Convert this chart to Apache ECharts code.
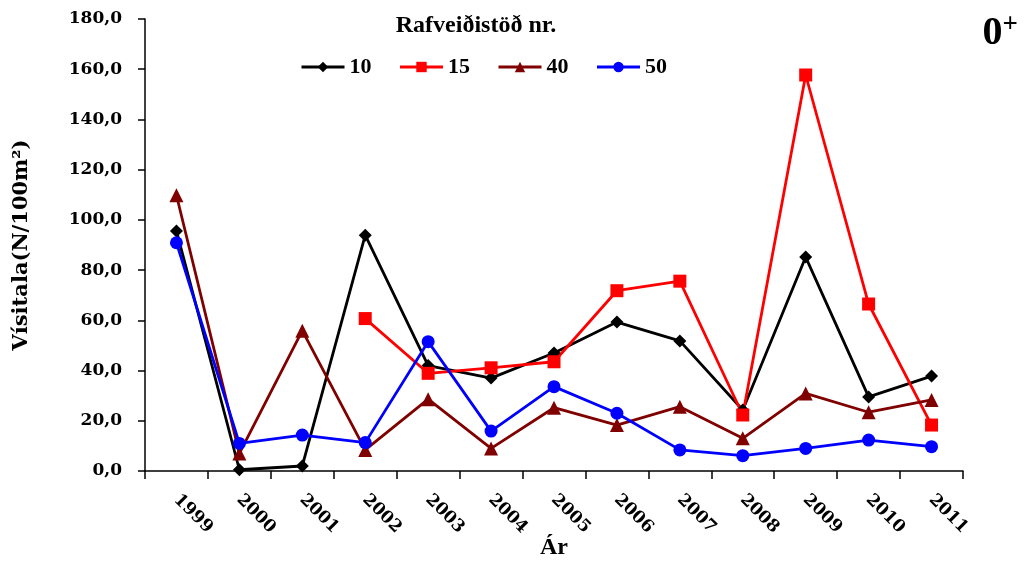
<!DOCTYPE html>
<html>
<head>
<meta charset="utf-8">
<script src="https://cdn.jsdelivr.net/npm/echarts@6/dist/echarts.min.js"></script>
<style>
html,body{margin:0;padding:0;background:#fff;}
#chart{width:1024px;height:561px;}
</style>
</head>
<body>
<div id="chart"></div>
<script>
const years = ['1999','2000','2001','2002','2003','2004','2005','2006','2007','2008','2009','2010','2011'];
const s10 = [95.6, 0.5, 2.0, 93.9, 42.0, 37.0, 47.0, 59.3, 51.8, 24.3, 85.2, 29.5, 37.8];
const s15 = [null, null, null, 60.7, 38.9, 41.1, 43.5, 71.8, 75.6, 22.3, 157.7, 66.5, 18.3];
const s40 = [109.8, 7.0, 55.9, 8.4, 28.6, 9.0, 25.2, 18.3, 25.6, 13.0, 30.9, 23.4, 28.3];
const s50 = [90.9, 11.0, 14.3, 11.3, 51.5, 15.9, 33.6, 23.0, 8.4, 6.1, 9.0, 12.3, 9.7];
const seriesNames = ['10', '15', '40', '50'];

const FONT = '"Liberation Serif", "Times New Roman", serif';
const WIDE = '"DejaVu Serif", serif';
const chart = echarts.init(document.getElementById('chart'));

function mk(name, data, color, symbol, size) {
  return {
    name: name, type: 'line', data: data, symbol: symbol, symbolSize: size,
    showAllSymbol: true, connectNulls: false,
    lineStyle: {color: color, width: 2.8},
    itemStyle: {color: color},
    emphasis: {disabled: true}, animation: false
  };
}

chart.setOption({
  animation: false,
  backgroundColor: '#fff',
  title: [
    {text: 'Rafveiðistöð nr.', left: 471, top: 9, textAlign: 'center',
     textStyle: {fontFamily: FONT, fontWeight: 'bold', fontSize: 24, color: '#000'}},
    {text: '{a|0}{b|+}', right: 1, top: 7,
     textStyle: {rich: {
       a: {fontFamily: FONT, fontWeight: 'bold', fontSize: 40, color: '#000'},
       b: {fontFamily: FONT, fontWeight: 'bold', fontSize: 27, color: '#000', verticalAlign: 'top', padding: [0,0,17,0]}
     }}}
  ],
  legend: {
    data: seriesNames, left: 295, top: 51, itemWidth: 43, itemHeight: 13, itemGap: 27,
    lineStyle: {width: 3},
    textStyle: {fontFamily: FONT, fontWeight: 'bold', fontSize: 22, color: '#000'},
    selectedMode: false
  },
  grid: {left: 145, right: 61, top: 19, bottom: 90, containLabel: false, outerBoundsMode: 'none'},
  xAxis: {
    type: 'category', data: years, boundaryGap: true,
    name: 'Ár', nameLocation: 'middle', nameGap: 65, nameMoveOverlap: false,
    nameTextStyle: {fontFamily: FONT, fontWeight: 'bold', fontSize: 24, color: '#000'},
    axisLine: {lineStyle: {color: '#000', width: 1.5}},
    axisTick: {show: true, inside: false, length: 8, alignWithLabel: false, lineStyle: {color: '#000', width: 1.5}},
    axisLabel: {rotate: -45, margin: 26, interval: 0, fontFamily: WIDE, fontWeight: 'bold', fontSize: 17, color: '#000'},
    splitLine: {show: false}
  },
  yAxis: {
    type: 'value', min: 0, max: 180, interval: 20,
    name: 'Vísitala(N/100m²)', nameLocation: 'middle', nameGap: 113, nameRotate: 90, nameMoveOverlap: false,
    nameTextStyle: {fontFamily: WIDE, fontWeight: 'bold', fontSize: 21, color: '#000'},
    axisLine: {show: true, lineStyle: {color: '#000', width: 1.5}},
    axisTick: {show: true, inside: false, length: 7, lineStyle: {color: '#000', width: 1.5}},
    axisLabel: {margin: 23, fontFamily: WIDE, fontWeight: 'bold', fontSize: 17, color: '#000',
      formatter: v => v.toFixed(1).replace('.', ',')},
    splitLine: {show: false}
  },
  series: [
    mk(seriesNames[0], s10, '#000000', 'diamond', 13),
    mk(seriesNames[1], s15, '#ff0000', 'rect', 13),
    mk(seriesNames[2], s40, '#800000', 'triangle', 14),
    mk(seriesNames[3], s50, '#0000ff', 'circle', 13)
  ]
});
</script>
</body>
</html>
